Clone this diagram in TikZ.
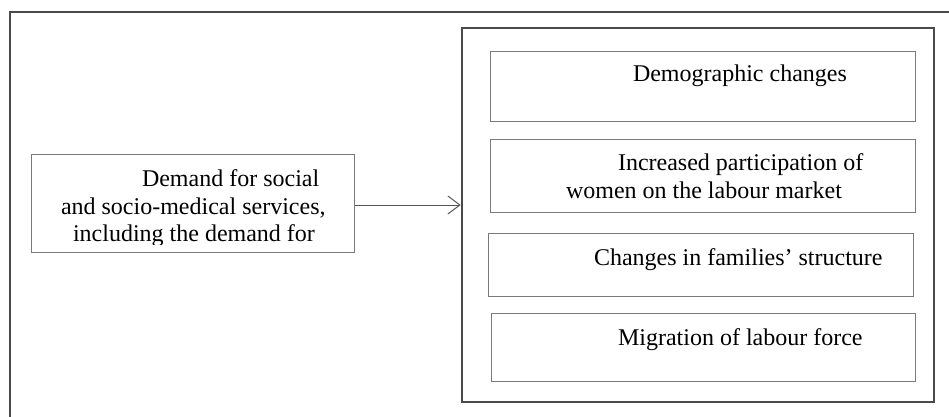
\documentclass[tikz,border=0pt]{standalone}
\usepackage{fontspec}
\setmainfont{Liberation Serif}
\usetikzlibrary{arrows.meta}
\definecolor{framec}{HTML}{4A4A4A}
\definecolor{boxc}{HTML}{7A7A7A}
\definecolor{arrc}{HTML}{555555}
\begin{document}
\begin{tikzpicture}[x=1pt,y=-1pt,
  frameline/.style={draw=framec,line width=2.2pt},
  bigbox/.style={draw=framec,line width=2.6pt,rectangle,inner sep=0pt},
  smallbox/.style={draw=boxc,line width=1pt,rectangle,inner sep=0pt},
  txt/.style={anchor=base west,inner sep=0pt,outer sep=0pt,text=black,font=\fontsize{24}{28}\selectfont},
  conn/.style={draw=arrc,line width=1pt,-{Straight Barb[length=12pt,width=18pt,line width=1pt]}}]
\useasboundingbox (0,0) rectangle (949,417);
% outer frame (top and left side only visible)
\coordinate (fbl) at (10,420);
\coordinate (ftl) at (10,12);
\coordinate (ftr) at (952,12);
\draw[frameline] (fbl) -- (ftl) -- (ftr);
% boxes
\node[smallbox,minimum width=323pt,minimum height=98pt] (L) at (192.5,203) {};
\node[bigbox,minimum width=472pt,minimum height=374pt] (R) at (698,215) {};
\node[smallbox,minimum width=425pt,minimum height=69pt] (B1) at (702.5,86.5) {};
\node[smallbox,minimum width=425pt,minimum height=73pt] (B2) at (702.5,175.5) {};
\node[smallbox,minimum width=425pt,minimum height=63pt] (B3) at (700.5,264.5) {};
\node[smallbox,minimum width=424pt,minimum height=68pt] (B4) at (703,347) {};
% left box text (last line clipped)
\begin{scope}
\clip (31,154) rectangle (354,244);
\node[txt] (l1) at (142,186) {Demand for social};
\node[txt] (l2) at (61,214) {and socio-medical services,};
\node[txt] (l3) at (73,241) {including the demand for};
\end{scope}
% right box texts
\node[txt] (d1) at (633,82) {Demographic changes};
\node[txt] (i1) at (618,170) {Increased participation of};
\node[txt] (i2) at (566,198) {women on the labour market};
\node[txt] (c1) at (594,265) {Changes in families’ structure};
\node[txt] (m1) at (618,345) {Migration of labour force};
% connector
\draw[conn] ([yshift=-2pt]L.east) -- ([yshift=-2pt]R.west |- L.east);
\end{tikzpicture}
\end{document}
